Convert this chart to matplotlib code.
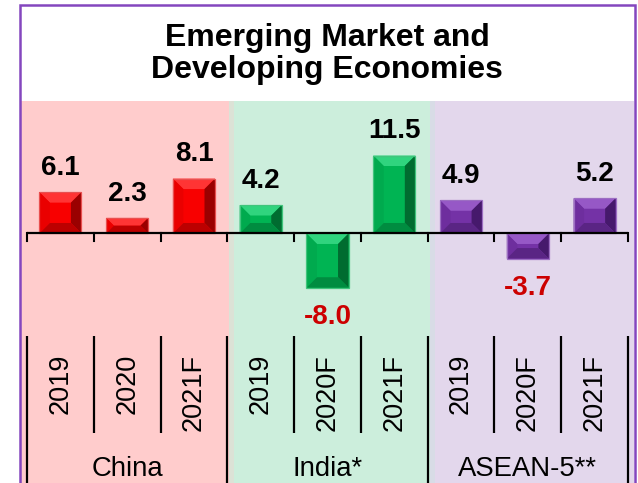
import matplotlib
matplotlib.use('Agg')
import matplotlib.pyplot as plt
from matplotlib.patches import Polygon, Rectangle

plt.rcParams['font.family'] = ['Liberation Sans', 'DejaVu Sans']

# ---------------- data ----------------
title = "Emerging Market and\nDeveloping Economies"
groups = ["China", "India*", "ASEAN-5**"]
years = [["2019", "2020", "2021F"],
         ["2019", "2020F", "2021F"],
         ["2019", "2020F", "2021F"]]
china = [6.1, 2.3, 8.1]
india = [4.2, -8.0, 11.5]
asean = [4.9, -3.7, 5.2]
values = [china, india, asean]

# face, top, left, right, bottom, edge
bar_styles = [
    dict(face="#F80000", top="#FF3434", left="#EA0000", right="#9A0000", bottom="#BC0000", edge="#E85050"),
    dict(face="#00B453", top="#30D47E", left="#00AA4E", right="#006C30", bottom="#008C40", edge="#40C47C"),
    dict(face="#7432A6", top="#9658C6", left="#6E2E9E", right="#46196C", bottom="#5A2584", edge="#9C6EC2"),
]
bg_colors = ["#FFCCCC", "#CCEEDC", "#E3D7EC"]
strip_colors = ["#DCE2D6", "#D8DCE6"]

W, H = 638, 483
fig = plt.figure(figsize=(W / 100, H / 100), dpi=100)
fig.patch.set_facecolor("white")

ax_left_px, ax_right_px, ax_top_px = 20, 634, 101
ax = fig.add_axes([ax_left_px / W, 0, (ax_right_px - ax_left_px) / W, (H - ax_top_px) / H])
xlim = (-0.605, 8.59)
ylim = (-36.8, 19.54)
ax.set_xlim(*xlim)
ax.set_ylim(*ylim)
ax.axis("off")

sx = (ax_right_px - ax_left_px) / (xlim[1] - xlim[0])   # px per x unit
sy = (H - ax_top_px) / (ylim[1] - ylim[0])               # px per y unit

# background bands
band_edges = [xlim[0], 2.53, 2.605, 5.54, 5.615, xlim[1]]
ax.axvspan(band_edges[0], band_edges[1], color=bg_colors[0], zorder=0, lw=0)
ax.axvspan(band_edges[1], band_edges[2], color=strip_colors[0], zorder=0, lw=0)
ax.axvspan(band_edges[2], band_edges[3], color=bg_colors[1], zorder=0, lw=0)
ax.axvspan(band_edges[3], band_edges[4], color=strip_colors[1], zorder=0, lw=0)
ax.axvspan(band_edges[4], band_edges[5], color=bg_colors[2], zorder=0, lw=0)

bar_w = 0.63


def bevel_bar(x, v, st):
    x0, x1 = x - bar_w / 2, x + bar_w / 2
    y_lo, y_hi = min(0, v), max(0, v)
    h_px = (y_hi - y_lo) * sy
    w_px = bar_w * sx
    b = min(10.5, h_px / 2, w_px / 2)
    bx, by = b / sx, b / sy
    ix0, ix1, iy0, iy1 = x0 + bx, x1 - bx, y_lo + by, y_hi - by
    polys = [
        ([(x0, y_lo), (x1, y_lo), (x1, y_hi), (x0, y_hi)], st["face"]),
        ([(x0, y_hi), (x1, y_hi), (ix1, iy1), (ix0, iy1)], st["top"]),
        ([(x0, y_lo), (ix0, iy0), (ix0, iy1), (x0, y_hi)], st["left"]),
        ([(x1, y_lo), (x1, y_hi), (ix1, iy1), (ix1, iy0)], st["right"]),
        ([(x0, y_lo), (x1, y_lo), (ix1, iy0), (ix0, iy0)], st["bottom"]),
    ]
    for pts, c in polys:
        ax.add_patch(Polygon(pts, closed=True, facecolor=c, edgecolor="none", zorder=3))
    ax.add_patch(Rectangle((x0, y_lo), bar_w, y_hi - y_lo, facecolor="none",
                           edgecolor=st["edge"], lw=0.9, zorder=4))


pos = 0
for gi, (g, yrs, vals) in enumerate(zip(groups, years, values)):
    for yr, v in zip(yrs, vals):
        bevel_bar(pos, v, bar_styles[gi])
        if v >= 0:
            ax.annotate(f"{v:.1f}", (pos, v), xytext=(0, 12.5), textcoords="offset points",
                        ha="center", va="baseline", fontsize=20, fontweight="bold",
                        color="black", zorder=5)
        else:
            ax.annotate(f"{v:.1f}", (pos, v), xytext=(0, -11.5), textcoords="offset points",
                        ha="center", va="top", fontsize=20, fontweight="bold",
                        color="#CC0000", zorder=5)
        ax.text(pos, -17.75, yr, rotation=90, ha="center", va="top", fontsize=19.5, zorder=5)
        pos += 1
    ax.text(gi * 3 + 1, -35.8, g, ha="center", va="baseline", fontsize=19.8, zorder=5)

# zero axis line and ticks
n = sum(len(v) for v in values)
bounds = [i - 0.5 for i in range(n + 1)]
ax.plot([bounds[0], bounds[-1]], [0, 0], color="black", lw=1.6, zorder=6, solid_capstyle="butt")
tick_len = 8 / sy
for b in bounds:
    ax.plot([b, b], [0, -tick_len], color="black", lw=1.5, zorder=6)

# label area separators
sep_top, sep_mid = -15.1, -29.4
for i, b in enumerate(bounds):
    is_group = (i % 3 == 0)
    ax.plot([b, b], [sep_top, ylim[0] if is_group else sep_mid], color="black",
            lw=1.6, zorder=6, clip_on=False, solid_capstyle="butt")

# title
fig.text((ax_left_px + ax_right_px) / 2 / W, 1 - 54 / H, title, ha="center", va="center",
         fontsize=23, fontweight="bold", linespacing=1.05)

# outer border
fig.add_artist(Rectangle((19.5 / W, -0.05), (634.5 - 19.5) / W, (H - 5) / H + 0.05,
                         transform=fig.transFigure, facecolor="none", edgecolor="#8446BE",
                         lw=1.8, zorder=20, clip_on=False))

fig.savefig("out.png", dpi=100)
